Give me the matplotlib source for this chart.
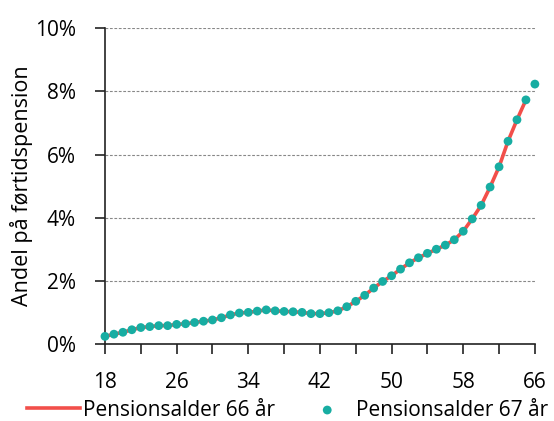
import numpy as np
import matplotlib
matplotlib.use('Agg')
import matplotlib.pyplot as plt
from matplotlib.ticker import FuncFormatter

# Andel på førtidspension efter alder (%)
ages_66 = list(range(18, 66))
ages_67 = list(range(18, 67))
share_67 = [0.24, 0.31, 0.37, 0.45, 0.52, 0.55, 0.58, 0.58, 0.62, 0.64,
            0.68, 0.72, 0.76, 0.83, 0.92, 0.98, 1.00, 1.04, 1.08, 1.05,
            1.03, 1.02, 1.00, 0.96, 0.96, 0.99, 1.05, 1.18, 1.35, 1.54,
            1.77, 1.98, 2.16, 2.37, 2.57, 2.73, 2.87, 3.00, 3.13, 3.30,
            3.57, 3.96, 4.39, 4.97, 5.61, 6.42, 7.10, 7.73, 8.23]
share_66 = share_67[:len(ages_66)]

RED = '#F24F4A'
TEAL = '#17ADA2'

plt.rcParams['font.family'] = ['Open Sans', 'DejaVu Sans']

fig = plt.figure(figsize=(5.54, 4.21), dpi=100)
ax = fig.add_axes([0.1895, 0.183, 0.776, 0.750])

ax.plot(ages_66, share_66, color=RED, lw=2.6, label='Pensionsalder 66 år', zorder=3)
ax.scatter(ages_67, share_67, color=TEAL, s=40, label='Pensionsalder 67 år',
           zorder=4, clip_on=False, edgecolors='none')

ax.set_xlim(18, 66)
ax.set_ylim(0, 10)
ax.set_xticks(range(18, 67, 4))
ax.xaxis.set_major_formatter(FuncFormatter(lambda v, p: f'{int(v)}' if (int(v) - 18) % 8 == 0 else ''))
ax.set_yticks(range(0, 11, 2))
ax.yaxis.set_major_formatter(FuncFormatter(lambda v, p: f'{int(v)}%'))
ax.tick_params(axis='both', labelsize=15, length=7, width=1.2, color='#222222')
ax.tick_params(axis='x', pad=13)
ax.tick_params(axis='y', pad=14)

for y in range(2, 11, 2):
    ax.axhline(y, color='#888888', lw=0.8, ls=(0, (2.5, 1.5)), zorder=1)

for s in ['top', 'right']:
    ax.spines[s].set_visible(False)
for s in ['left', 'bottom']:
    ax.spines[s].set_linewidth(1.2)
    ax.spines[s].set_color('#222222')

ax.set_ylabel('Andel på førtidspension', fontsize=15.5, labelpad=1)

fig.legend(loc='center left', bbox_to_anchor=(27 / 554, 1 - 410 / 421), ncol=2,
           frameon=False, fontsize=15, handlelength=2.55, handletextpad=0.12,
           columnspacing=1.25, borderpad=0, borderaxespad=0)

fig.savefig('out.png', dpi=100)
